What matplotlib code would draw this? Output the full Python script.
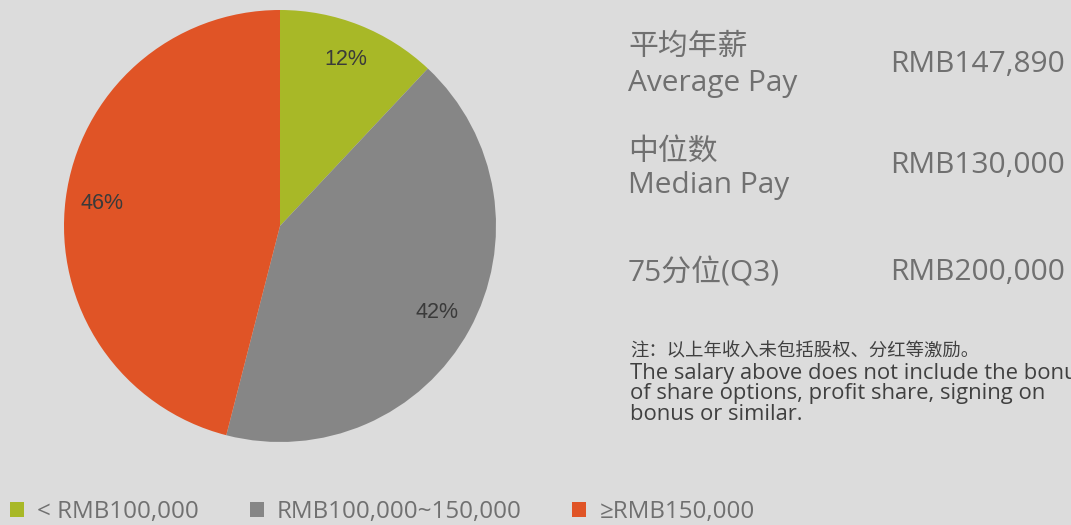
import matplotlib
matplotlib.use("Agg")
import matplotlib.pyplot as plt
from matplotlib.patches import Patch

categories = ["< RMB100,000", "RMB100,000~150,000", "≥RMB150,000"]
shares = [12, 42, 46]
colors = ["#A8B827", "#868686", "#E05426"]

stat_labels_cn = ["平均年薪", "中位数", ""]
stat_labels_en = ["Average Pay", "Median Pay", "75分位(Q3)"]
stat_values = ["RMB147,890", "RMB130,000", "RMB200,000"]

note_cn = "注：以上年收入未包括股权、分红等激励。"
note_en = ["The salary above does not include the bonus",
           "of share options, profit share, signing on",
           "bonus or similar."]

FAM = ["Open Sans", "Noto Sans CJK SC", "DejaVu Sans"]
plt.rcParams["font.family"] = FAM

W, H = 1071, 525
BG = "#DCDCDC"
fig = plt.figure(figsize=(W / 100, H / 100), dpi=100, facecolor=BG)

def fx(px):
    return px / W

def fy(py):
    return 1 - py / H

# pie axes
cx, cy, r = 280, 226, 216
ax = fig.add_axes([fx(cx - r), fy(cy + r), 2 * r / W, 2 * r / H])
ax.set_facecolor(BG)
wedges, texts, autotexts = ax.pie(
    shares, colors=colors, startangle=90, counterclock=False,
    autopct="%d%%", pctdistance=0.83, radius=1,
    textprops=dict(color="#3A3A3A", fontsize=15.5,
                   family=["Liberation Sans", "DejaVu Sans"]),
    wedgeprops=dict(linewidth=0))
ax.set_xlim(-1, 1)
ax.set_ylim(-1, 1)
ax.set_aspect("equal")
ax.axis("off")

grey = "#707070"
# stats block
cn_y = [47, 152, None]
en_y = [83, 186, 273]
val_y = [65, 166, 273]
for i in range(3):
    if stat_labels_cn[i]:
        fig.text(fx(628), fy(cn_y[i]), stat_labels_cn[i], fontsize=21.5, color=grey,
                 va="center", ha="left")
    fig.text(fx(628), fy(en_y[i]), stat_labels_en[i], fontsize=21.5, color=grey,
             va="center", ha="left")
    fig.text(fx(890), fy(val_y[i]), stat_values[i], fontsize=21.5, color=grey,
             va="center", ha="left")

dark = "#404040"
fig.text(fx(630), fy(351), note_cn, fontsize=13.2, color=dark, va="center", ha="left")
for j, line in enumerate(note_en):
    fig.text(fx(630), fy(373 + j * 20.5), line, fontsize=15.8, color=dark,
             va="center", ha="left")

handles = [Patch(facecolor=c, edgecolor="none") for c in colors]
leg = fig.legend(handles, categories, ncol=3, loc="center left",
                 bbox_to_anchor=(fx(10), fy(512)), frameon=False,
                 fontsize=17.4, labelcolor=grey, handlelength=0.58,
                 handleheight=0.58, handletextpad=0.54, columnspacing=2.1,
                 borderaxespad=0, borderpad=0)

fig.savefig("out.png", dpi=100, facecolor=BG)
